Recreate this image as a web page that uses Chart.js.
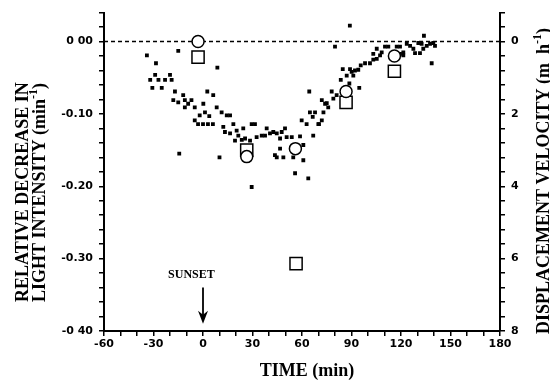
<!DOCTYPE html>
<html>
<head>
<meta charset="utf-8">
<script src="https://cdn.jsdelivr.net/npm/chart.js@4.4.0/dist/chart.umd.min.js"></script>
<style>
  html, body { margin: 0; padding: 0; background: #fff; }
  #wrap { width: 550px; height: 382px; }
</style>
</head>
<body>
<div id="wrap"><canvas id="chart"></canvas></div>
<script>
// individual measurements: time (min) and relative decrease in light (min-1)
const dotTimes = [
  -34, -28.5, -15, -29, -32, -27, -23, -20, -19, -30.7,
  -25, -17, -12, 2.6, 6.2, 8.7, -18, -15, -11, -9,
  -7, -11, -5, 0.2, 8.3, 11.3, 14.4, 16.4, 1.2, -2,
  3.8, -5, -3, 0, 3, 6, 12.3, 18.4, 13.3, 16.4,
  20.4, 24.4, 21.4, 19.4, 23.5, 25.5, 28.5, 29.5, 31.5, -14.4,
  10, 29.5, 32.5, 35.6, 38.6, 37.6, 40.6, 42.6, 44.7, 47.7,
  49.7, 46.7, 50.7, 53.8, 46.7, 43.6, 44.7, 48.7, 54.7, 60.8,
  60.8, 55.8, 63.8, 59.8, 62.8, 66.8, 64.8, 67.9, 72, 74,
  72, 70.3, 64.4, 73, 89, 80, 58.8, 66.5, 69.9, 75,
  75.9, 79, 78, 81, 83.5, 84.7, 87.1, 89.1, 90.1, 92.1,
  94.1, 91.1, 88.7, 94.7, 95.6, 98.2, 101.2, 103.2, 105.3, 103.2,
  105.3, 108.3, 110.3, 112.3, 107.3, 117.4, 119.4, 121.4, 123.5, 125.5,
  127.5, 128.5, 131.5, 133.5, 135.6, 137.6, 139.6, 140.6, 133.9, 130.5,
  132.5, 138.6, 121.4, 119.4
];
const dotRates = [
  -0.019, -0.030, -0.013, -0.046, -0.053, -0.053, -0.053, -0.046, -0.053, -0.064,
  -0.064, -0.069, -0.074, -0.069, -0.074, -0.036, -0.081, -0.084, -0.081, -0.086,
  -0.081, -0.091, -0.091, -0.086, -0.091, -0.098, -0.102, -0.102, -0.098, -0.102,
  -0.103, -0.109, -0.114, -0.114, -0.114, -0.114, -0.118, -0.114, -0.125, -0.127,
  -0.123, -0.120, -0.130, -0.137, -0.136, -0.134, -0.137, -0.114, -0.114, -0.155,
  -0.160, -0.201, -0.132, -0.130, -0.120, -0.130, -0.127, -0.125, -0.127, -0.125,
  -0.120, -0.134, -0.132, -0.132, -0.148, -0.157, -0.160, -0.160, -0.160, -0.143,
  -0.164, -0.182, -0.189, -0.109, -0.114, -0.130, -0.098, -0.098, -0.081, -0.086,
  -0.109, -0.114, -0.069, -0.098, 0.022, -0.007, -0.131, -0.104, -0.114, -0.085,
  -0.091, -0.079, -0.069, -0.074, -0.053, -0.038, -0.047, -0.038, -0.042, -0.040,
  -0.039, -0.047, -0.058, -0.064, -0.033, -0.030, -0.030, -0.025, -0.024, -0.017,
  -0.010, -0.015, -0.007, -0.007, -0.019, -0.007, -0.007, -0.015, -0.003, -0.006,
  -0.010, -0.016, -0.016, -0.010, -0.006, -0.003, -0.002, -0.006, 0.008, -0.002,
  -0.003, -0.030, -0.019, -0.017
];

// mean light decrease (open circles, left axis)
const meanTimes = [-3, 26.5, 56, 86.7, 116];
const meanRates = [0, -0.159, -0.148, -0.069, -0.020];

// displacement velocity (open squares, right axis, m h-1)
const velTimes = [-3, 26.5, 56.4, 86.7, 116];
const velValues = [0.43, 3.0, 6.14, 1.68, 0.82];

// tick labels
const xLabelValues = [-60, -30, 0, 30, 60, 90, 120, 150, 180];
const leftLabelValues = [0, -10, -20, -30, -40]; // hundredths
const leftLabelText = ["0 00", "-0.10", "-0.20", "-0.30", "-0 40"];
const rightLabelValues = [0, 2, 4, 6, 8];

const sunsetTime = 0;

const tickFont = { family: "DejaVu Sans", size: 11, weight: "bold" };
const titleFont = "bold 18px 'Liberation Serif'";
const supFont = "bold 12px 'Liberation Serif'";

function toPoints(xs, ys) {
  return xs.map((x, i) => ({ x: x, y: ys[i] }));
}

function drawRich(ctx, parts, x, y) {
  // parts: [text, isSuperscript]
  let cx = x;
  parts.forEach(([t, sup]) => {
    ctx.font = sup ? supFont : titleFont;
    ctx.fillText(t, cx, sup ? y - 6 : y);
    cx += ctx.measureText(t).width;
  });
}

function richWidth(ctx, parts) {
  let w = 0;
  parts.forEach(([t, sup]) => {
    ctx.font = sup ? supFont : titleFont;
    w += ctx.measureText(t).width;
  });
  return w;
}

const extras = {
  id: "extras",
  beforeDatasetsDraw(chart) {
    const { ctx, chartArea, scales } = chart;
    const y0 = scales.y.getPixelForValue(0);
    ctx.save();
    ctx.setLineDash([4, 3]);
    ctx.lineWidth = 1.5;
    ctx.strokeStyle = "#000";
    ctx.beginPath();
    ctx.moveTo(chartArea.left, y0);
    ctx.lineTo(chartArea.right, y0);
    ctx.stroke();
    ctx.restore();
  },
  afterDraw(chart) {
    const { ctx, scales } = chart;
    ctx.save();
    ctx.fillStyle = "#000";
    ctx.textBaseline = "middle";

    // left title, two lines, rotated
    ctx.save();
    ctx.translate(23, 302);
    ctx.rotate(-Math.PI / 2);
    ctx.textAlign = "left";
    drawRich(ctx, [["RELATIVE DECREASE IN", false]], 0, 0);
    drawRich(ctx, [["LIGHT INTENSITY (min", false], ["-1", true], [")", false]], 0, 17);
    ctx.restore();

    // right title, rotated the same way
    const rParts = [["DISPLACEMENT VELOCITY (m  h", false], ["-1", true], [")", false]];
    ctx.save();
    ctx.translate(544, 181);
    ctx.rotate(-Math.PI / 2);
    ctx.textAlign = "left";
    drawRich(ctx, rParts, -richWidth(ctx, rParts) / 2, 0);
    ctx.restore();

    // bottom title
    ctx.textAlign = "center";
    ctx.font = titleFont;
    ctx.fillText("TIME (min)", 307, 371);

    // sunset marker
    const sx = scales.x.getPixelForValue(sunsetTime);
    const top = scales.y.getPixelForValue(-0.34);
    const tip = scales.y.getPixelForValue(-0.39);
    ctx.font = "bold 12px 'Liberation Serif'";
    ctx.fillText("SUNSET", scales.x.getPixelForValue(-7), scales.y.getPixelForValue(-0.322));
    ctx.lineWidth = 1.8;
    ctx.strokeStyle = "#000";
    ctx.beginPath();
    ctx.moveTo(sx, top);
    ctx.lineTo(sx, tip - 6);
    ctx.stroke();
    ctx.beginPath();
    ctx.moveTo(sx, tip);
    ctx.lineTo(sx - 5, tip - 13);
    ctx.lineTo(sx, tip - 9);
    ctx.lineTo(sx + 5, tip - 13);
    ctx.closePath();
    ctx.fill();
    ctx.restore();
  }
};

const axisGrid = {
  drawOnChartArea: false,
  drawTicks: true,
  tickLength: 5,
  color: "#000",
  lineWidth: 1.5
};
const axisBorder = { color: "#000", width: 2 };

new Chart(document.getElementById("chart"), {
  type: "scatter",
  data: {
    datasets: [
      {
        label: "means",
        data: toPoints(meanTimes, meanRates),
        yAxisID: "y",
        pointStyle: "circle",
        pointRadius: 6,
        backgroundColor: "#fff",
        borderColor: "#000",
        borderWidth: 1.5,
        order: 1
      },
      {
        label: "velocity",
        data: toPoints(velTimes, velValues),
        yAxisID: "y2",
        pointStyle: "rect",
        pointRadius: 8.6,
        backgroundColor: "#fff",
        borderColor: "#000",
        borderWidth: 1.5,
        order: 2
      },
      {
        label: "measurements",
        data: toPoints(dotTimes, dotRates),
        yAxisID: "y",
        pointStyle: "rect",
        pointRadius: 2.7,
        backgroundColor: "#000",
        borderWidth: 0,
        order: 3
      }
    ]
  },
  options: {
    responsive: true,
    maintainAspectRatio: false,
    animation: false,
    layout: { padding: { top: 12 } },
    plugins: {
      legend: { display: false },
      tooltip: { enabled: false }
    },
    scales: {
      x: {
        type: "linear",
        position: "bottom",
        min: -60,
        max: 180,
        ticks: {
          stepSize: 10,
          autoSkip: false,
          maxRotation: 0,
          color: "#000",
          font: tickFont,
          padding: 2,
          callback: (v) => (xLabelValues.includes(v) ? String(v) : "")
        },
        grid: axisGrid,
        border: axisBorder,
        afterFit: (s) => { s.height = 51; }
      },
      y: {
        position: "left",
        min: -0.4,
        max: 0.04,
        ticks: {
          stepSize: 0.02,
          autoSkip: false,
          color: "#000",
          font: tickFont,
          padding: 6,
          callback: (v) => {
            const k = leftLabelValues.indexOf(Math.round(v * 100));
            return k >= 0 ? leftLabelText[k] : "";
          }
        },
        grid: axisGrid,
        border: axisBorder,
        afterFit: (s) => { s.width = 104; }
      },
      y2: {
        position: "right",
        reverse: true,
        min: -0.8,
        max: 8,
        ticks: {
          stepSize: 0.4,
          autoSkip: false,
          color: "#000",
          font: tickFont,
          padding: 6,
          callback: (v) => {
            const r = Math.round(v * 10) / 10;
            return rightLabelValues.includes(r) ? String(r) : "";
          }
        },
        grid: axisGrid,
        border: axisBorder,
        afterFit: (s) => { s.width = 50; }
      }
    }
  },
  plugins: [extras]
});
</script>
</body>
</html>
